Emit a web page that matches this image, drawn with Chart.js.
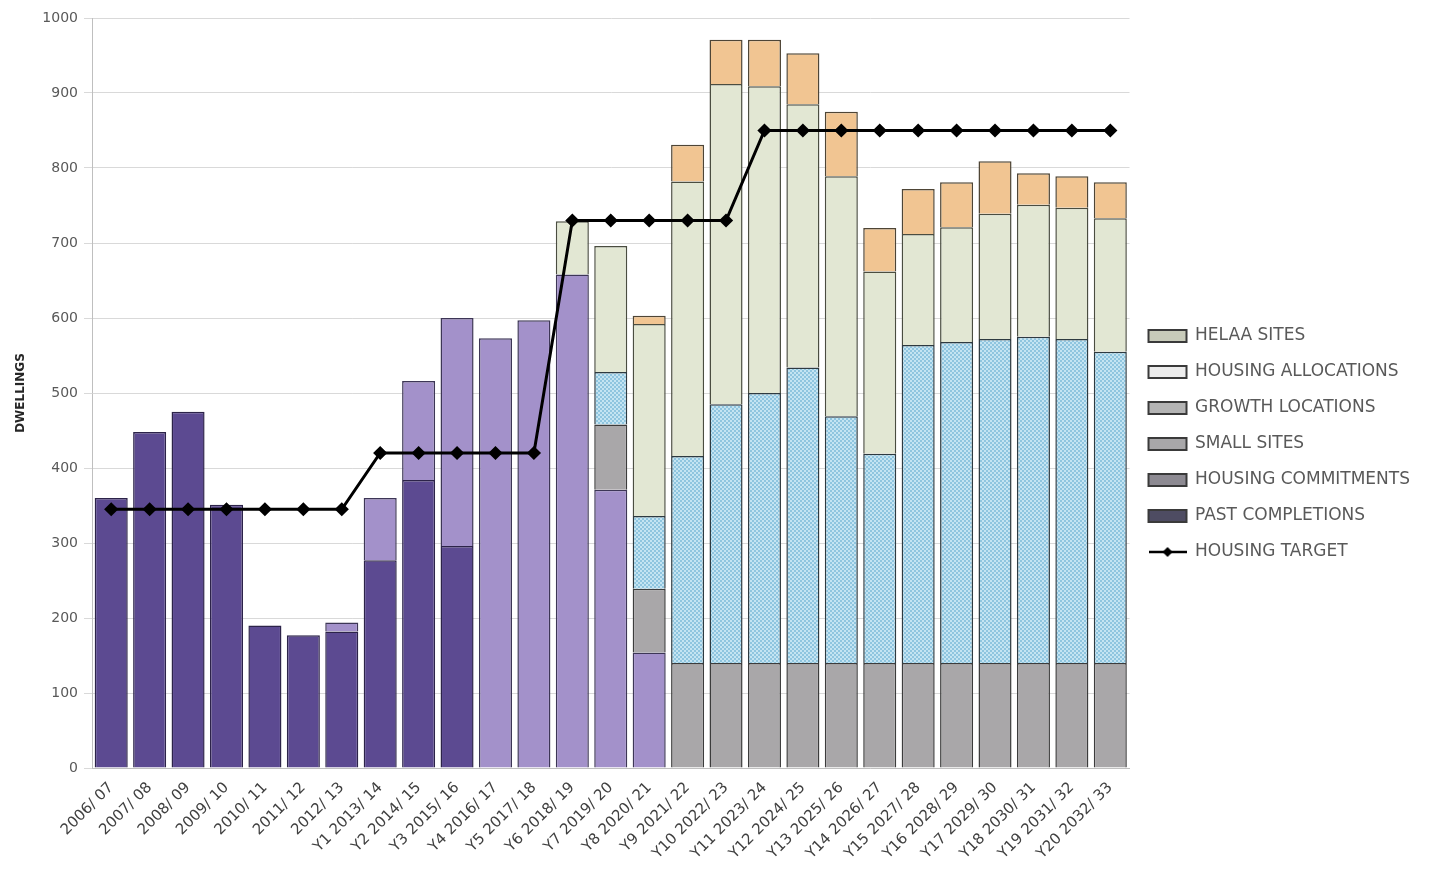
<!DOCTYPE html>
<html>
<head>
<meta charset="utf-8">
<script src="https://cdn.jsdelivr.net/npm/chart.js@4.4.0/dist/chart.umd.min.js"></script>
<style>
    html, body { margin: 0; padding: 0; background: #fff; }
</style>
</head>
<body>
<canvas id="housingChart" width="1430" height="870"></canvas>
<script>
const categories = [
    '2006/ 07', '2007/ 08', '2008/ 09', '2009/ 10', '2010/ 11', '2011/ 12', '2012/ 13',
    'Y1 2013/ 14', 'Y2 2014/ 15', 'Y3 2015/ 16', 'Y4 2016/ 17', 'Y5 2017/ 18', 'Y6 2018/ 19',
    'Y7 2019/ 20', 'Y8 2020/ 21', 'Y9 2021/ 22', 'Y10 2022/ 23', 'Y11 2023/ 24', 'Y12 2024/ 25',
    'Y13 2025/ 26', 'Y14 2026/ 27', 'Y15 2027/ 28', 'Y16 2028/ 29', 'Y17 2029/ 30', 'Y18 2030/ 31',
    'Y19 2031/ 32', 'Y20 2032/ 33'
];
const pastCompletions = [360, 448, 475, 351, 190, 177, 182, 277, 384, 296, 0, 0, 0, 0, 0, 0, 0, 0, 0, 0, 0, 0, 0, 0, 0, 0, 0];
const housingCommitments = [0, 0, 0, 0, 0, 0, 12, 83, 132, 304, 573, 597, 658, 371, 154, 0, 0, 0, 0, 0, 0, 0, 0, 0, 0, 0, 0];
const smallSites = [0, 0, 0, 0, 0, 0, 0, 0, 0, 0, 0, 0, 0, 87, 85, 140, 140, 140, 140, 140, 140, 140, 140, 140, 140, 140, 140];
const growthLocations = [0, 0, 0, 0, 0, 0, 0, 0, 0, 0, 0, 0, 0, 70, 97, 276, 345, 360, 394, 329, 279, 424, 428, 432, 435, 432, 415];
const housingAllocations = [0, 0, 0, 0, 0, 0, 0, 0, 0, 0, 0, 0, 71, 168, 256, 366, 427, 409, 351, 320, 243, 148, 153, 167, 176, 175, 178];
const helaaSites = [0, 0, 0, 0, 0, 0, 0, 0, 0, 0, 0, 0, 0, 0, 11, 49, 59, 62, 68, 86, 58, 60, 60, 70, 42, 42, 48];
const housingTarget = [345, 345, 345, 345, 345, 345, 345, 420, 420, 420, 420, 420, 730, 730, 730, 730, 730, 850, 850, 850, 850, 850, 850, 850, 850, 850, 850];
const yTicks = [0, 100, 200, 300, 400, 500, 600, 700, 800, 900, 1000];

const ctx = document.getElementById('housingChart').getContext('2d');

// small blue checks for the growth locations fill
function checkPattern() {
    const c = document.createElement('canvas');
    c.width = 4;
    c.height = 4;
    const g = c.getContext('2d');
    g.fillStyle = '#c4e4f2';
    g.fillRect(0, 0, 4, 4);
    g.fillStyle = '#8fc5df';
    g.fillRect(0, 0, 2, 2);
    g.fillRect(2, 2, 2, 2);
    return ctx.createPattern(c, 'repeat');
}

// line with a diamond, used as the legend symbol of the target
function targetIcon() {
    const c = document.createElement('canvas');
    c.width = 38;
    c.height = 12;
    const g = c.getContext('2d');
    g.strokeStyle = '#000';
    g.lineWidth = 2.5;
    g.beginPath();
    g.moveTo(0, 6);
    g.lineTo(38, 6);
    g.stroke();
    g.fillStyle = '#000';
    g.beginPath();
    g.moveTo(19, 1);
    g.lineTo(24, 6);
    g.lineTo(19, 11);
    g.lineTo(14, 6);
    g.closePath();
    g.fill();
    return c;
}

function bars(values) {
    return values.map(function (v) { return v || null; });
}

const legendFills = ['#4e4c62', '#8d8a92', '#a8a7a9', '#b4b4b4', '#ececec', '#c8cbba'];
const legendOrder = [5, 4, 3, 2, 1, 0, 6];
const targetSymbol = targetIcon();

new Chart(ctx, {
    type: 'bar',
    data: {
        labels: categories,
        datasets: [
            { label: 'PAST COMPLETIONS', data: bars(pastCompletions), backgroundColor: '#5c4a91', borderColor: '#2c2349', borderWidth: 1.5, stack: 'supply', order: 1 },
            { label: 'HOUSING COMMITMENTS', data: bars(housingCommitments), backgroundColor: '#a391ca', borderColor: '#3d3656', borderWidth: 1.5, stack: 'supply', order: 1 },
            { label: 'SMALL SITES', data: bars(smallSites), backgroundColor: '#a9a7a9', borderColor: '#3c3c3c', borderWidth: 1.5, stack: 'supply', order: 1 },
            { label: 'GROWTH LOCATIONS', data: bars(growthLocations), backgroundColor: checkPattern(), borderColor: '#2e3a40', borderWidth: 1.5, stack: 'supply', order: 1 },
            { label: 'HOUSING ALLOCATIONS', data: bars(housingAllocations), backgroundColor: '#e2e7d3', borderColor: '#4a4d40', borderWidth: 1.5, stack: 'supply', order: 1 },
            { label: 'HELAA SITES', data: bars(helaaSites), backgroundColor: '#f1c592', borderColor: '#4e4536', borderWidth: 1.5, stack: 'supply', order: 1 },
            {
                type: 'line', label: 'HOUSING TARGET', data: housingTarget, stack: 'target', order: 0,
                borderColor: '#000', borderWidth: 3, tension: 0,
                pointStyle: 'rectRot', pointRadius: 5, pointBackgroundColor: '#000', pointBorderColor: '#000'
            }
        ]
    },
    options: {
        responsive: false,
        animation: false,
        categoryPercentage: 1,
        barPercentage: 0.86,
        layout: { padding: { top: 18, right: 10, left: 10, bottom: 0 } },
        scales: {
            x: {
                stacked: true,
                grid: { display: false },
                border: { color: '#bfbfbf' },
                ticks: {
                    autoSkip: false, minRotation: 45, maxRotation: 45, color: '#404040',
                    font: { family: 'DejaVu Sans', size: 15 }
                },
                afterFit: function (scale) { scale.height = 102; }
            },
            y: {
                stacked: true,
                min: yTicks[0],
                max: yTicks[yTicks.length - 1],
                grid: { color: '#d9d9d9' },
                border: { color: '#bfbfbf' },
                ticks: {
                    stepSize: 100, padding: 6, color: '#595959',
                    font: { family: 'DejaVu Sans', size: 14 },
                    callback: function (value) { return String(value); }
                },
                title: {
                    display: true, text: 'DWELLINGS', color: '#262626',
                    font: { family: 'DejaVu Sans', size: 12, weight: 'bold' }
                },
                afterFit: function (scale) { scale.width = 82; }
            }
        },
        plugins: {
            tooltip: { enabled: false },
            legend: {
                position: 'right',
                labels: {
                    usePointStyle: true,
                    pointStyleWidth: 38,
                    boxHeight: 12,
                    padding: 19,
                    color: '#595959',
                    font: { family: 'DejaVu Sans', size: 17 },
                    generateLabels: function (chart) {
                        return legendOrder.map(function (i) {
                            const ds = chart.data.datasets[i];
                            const item = {
                                text: ds.label,
                                datasetIndex: i,
                                hidden: !chart.isDatasetVisible(i),
                                fontColor: '#595959'
                            };
                            if (ds.type === 'line') {
                                item.pointStyle = targetSymbol;
                                item.fillStyle = '#000';
                                item.strokeStyle = '#000';
                                item.lineWidth = 0;
                            } else {
                                item.pointStyle = 'rect';
                                item.fillStyle = legendFills[i];
                                item.strokeStyle = '#3a3a3a';
                                item.lineWidth = 2;
                            }
                            return item;
                        });
                    }
                }
            }
        }
    }
});
</script>
</body>
</html>
